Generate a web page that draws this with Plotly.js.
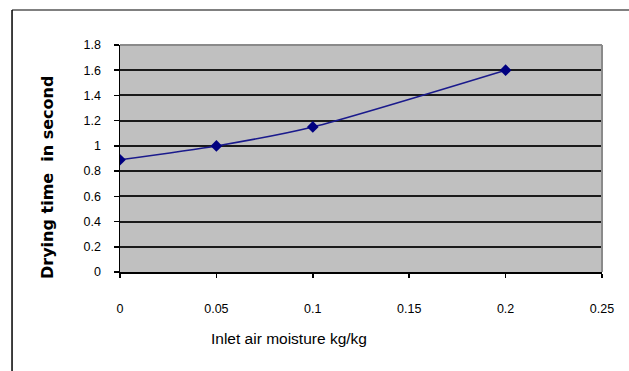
<!DOCTYPE html>
<html>
<head>
<meta charset="utf-8">
<script src="https://cdn.plot.ly/plotly-3.0.1.min.js"></script>
<style>html,body{margin:0;padding:0;background:#fff;}#chart{width:629px;height:371px;}</style>
</head>
<body>
<div id="chart"></div>
<script>
var moisture = [0, 0.05, 0.1, 0.2];
var dryingTime = [0.89, 1.0, 1.15, 1.6];
var xTicks = [0, 0.05, 0.1, 0.15, 0.2, 0.25];
var xTickLabels = ['0', '0.05', '0.1', '0.15', '0.2', '0.25'];
var yTicks = [0, 0.2, 0.4, 0.6, 0.8, 1, 1.2, 1.4, 1.6, 1.8];
var yTickLabels = ['0', '0.2', '0.4', '0.6', '0.8', '1', '1.2', '1.4', '1.6', '1.8'];
var xTitle = 'Inlet air moisture kg/kg';
var yTitle = 'Drying time  in second';

var trace = {
  x: moisture, y: dryingTime, type: 'scatter', mode: 'lines+markers',
  line: {color: '#1a1a8c', width: 1.5, shape: 'spline', smoothing: 0.6},
  marker: {symbol: 'diamond', size: 9, color: '#000080'},
  hoverinfo: 'skip', showlegend: false
};

var layout = {
  width: 629, height: 371,
  margin: {l: 120, r: 27, t: 45, b: 99},
  paper_bgcolor: '#ffffff', plot_bgcolor: '#c0c0c0',
  font: {family: 'Liberation Sans, Arial, sans-serif', size: 12.5, color: '#000'},
  xaxis: {
    range: [0, 0.25], tickvals: xTicks, ticktext: xTickLabels,
    showgrid: false, zeroline: false, showline: true, linecolor: '#000', linewidth: 1.5,
    ticks: 'outside', ticklen: 4, tickcolor: '#000', tickwidth: 1.5,
    ticklabelstandoff: 20, tickfont: {size: 12.5}, fixedrange: true
  },
  yaxis: {
    range: [0, 1.8], tickvals: yTicks, ticktext: yTickLabels,
    showgrid: true, gridcolor: '#1a1a1a', gridwidth: 2, zeroline: false,
    showline: true, linecolor: '#000', linewidth: 1.5,
    ticks: 'outside', ticklen: 5, tickcolor: '#000', tickwidth: 1.5,
    ticklabelstandoff: 10, tickfont: {size: 12.5}, fixedrange: true
  },
  shapes: [
    {type: 'line', xref: 'paper', yref: 'paper', x0: 1, x1: 1, y0: 0, y1: 1, line: {color: '#8a8a8a', width: 2}},
    {type: 'line', xref: 'paper', yref: 'paper', x0: 0, x1: 1, y0: 1, y1: 1, line: {color: '#8a8a8a', width: 2}},
    {type: 'line', xref: 'paper', yref: 'paper', x0: -0.224, x1: 1.06, y0: 1.154, y1: 1.154, line: {color: '#808080', width: 2}},
    {type: 'line', xref: 'paper', yref: 'paper', x0: -0.224, x1: -0.224, y0: 1.154, y1: -0.44, line: {color: '#000', width: 1.5}}
  ],
  annotations: [
    {text: xTitle, xref: 'paper', yref: 'paper', x: (289 - 120) / 482, y: (272 - 338) / 227,
     xanchor: 'center', yanchor: 'middle', showarrow: false,
     font: {family: 'Liberation Sans, Arial', size: 15.5, color: '#000'}},
    {text: '<b>' + yTitle + '</b>', xref: 'paper', yref: 'paper', x: (47 - 120) / 482, y: (272 - 178) / 227,
     xanchor: 'center', yanchor: 'middle', showarrow: false, textangle: -90,
     font: {family: 'DejaVu Sans, Arial', size: 16, color: '#000'}}
  ]
};

Plotly.newPlot('chart', [trace], layout, {displayModeBar: false, staticPlot: true});
</script>
</body>
</html>
